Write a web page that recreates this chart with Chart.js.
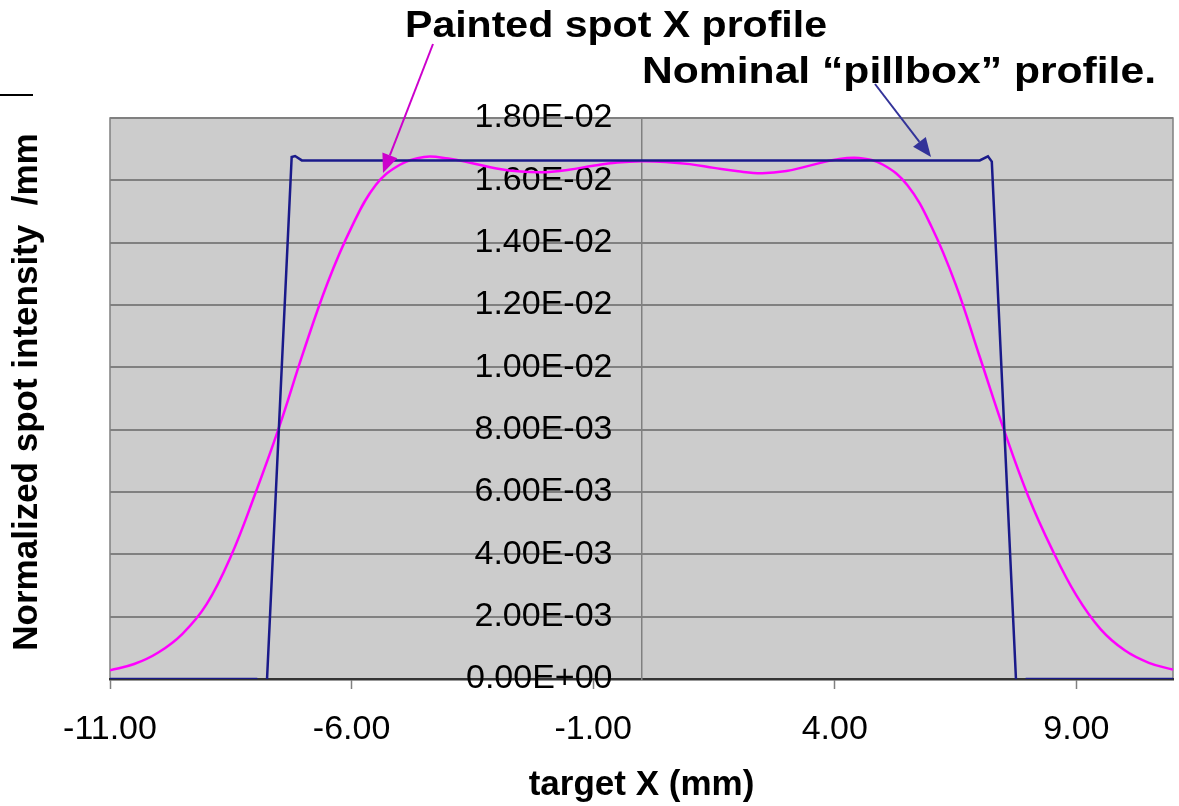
<!DOCTYPE html>
<html>
<head>
<meta charset="utf-8">
<title>Painted spot X profile</title>
<script src="https://cdn.jsdelivr.net/npm/chart.js@4.4.0/dist/chart.umd.min.js"></script>
<style>
  body { margin: 0; background: #ffffff; }
  #wrap { width: 1179px; height: 806px; }
</style>
</head>
<body>
<div id="wrap"><canvas id="spotChart"></canvas></div>
<script>
// nominal "pillbox" profile: target X (mm) and intensity (/mm)
const pillboxX = [-11, -7.97, -7.86, -7.75, -7.24, -7.17, -7.03, 7.0, 7.17, 7.25, 7.75, 7.86, 7.97, 11];
const pillboxY = [0, 0, -0.0004, 0, 0.01675, 0.01678, 0.01664, 0.01664, 0.01677, 0.01660, 0, -0.0004, 0, 0];

const paintedX = [
    -11, -10.5, -10, -9.5, -9, -8.5, -8, -7.5, -7, -6.5, -6, -5.5, -5, -4.5, -4, -3.5, -3, -2.5, -2, -1.5, -1, -0.5,
    0, 0.5, 1, 1.5, 2, 2.5, 3, 3.5, 4, 4.5, 5, 5.5, 6, 6.5, 7, 7.5, 8, 8.5, 9, 9.5, 10, 10.5, 11
];
const paintedY = [
    0.00028, 0.00048, 0.00085, 0.00145, 0.00240, 0.00393, 0.00592, 0.00808, 0.01048, 0.01270, 0.01450,
    0.01585, 0.01650, 0.01675, 0.01670, 0.01655, 0.01638, 0.01628, 0.01626, 0.01634, 0.01647, 0.01657,
    0.01661, 0.01659, 0.01652, 0.01640, 0.01629, 0.01623, 0.01630, 0.01648, 0.01666, 0.01672, 0.01650,
    0.01585, 0.01452, 0.01267, 0.01034, 0.00800, 0.00588, 0.00415, 0.00268, 0.00160, 0.00092, 0.00052, 0.00030
];

// axis ticks
const xTickValues = [-11, -6, -1, 4, 9];
const yTickValues = [0, 0.002, 0.004, 0.006, 0.008, 0.010, 0.012, 0.014, 0.016, 0.018];

const FONT = '"Liberation Sans", Arial, sans-serif';

// Excel style scientific label, e.g. 1.80E-02
function sciLabel (v) {
    if (Math.abs(v) < 1e-12) return '0.00E+00';
    const parts = v.toExponential(2).split('e');
    const exp = parseInt(parts[1], 10);
    const sign = exp < 0 ? '-' : '+';
    return parts[0] + 'E' + sign + String(Math.abs(exp)).padStart(2, '0');
}

function toPoints (xs, ys) {
    const pts = [];
    for (let i = 0; i < xs.length; i++) {
        pts.push({ x: xs[i], y: ys[i] });
    }
    return pts;
}

// bold text stretched to a given width (the original text is a bit wide)
function fitText (ctx, text, left, baseline, width, size) {
    ctx.save();
    ctx.font = 'bold ' + size + 'px ' + FONT;
    const w = ctx.measureText(text).width;
    ctx.translate(left, baseline);
    ctx.scale(width / w, 1);
    ctx.fillStyle = '#000000';
    ctx.textBaseline = 'alphabetic';
    ctx.textAlign = 'left';
    ctx.fillText(text, 0, 0);
    ctx.restore();
}

function arrow (ctx, x1, y1, x2, y2, color) {
    const ang = Math.atan2(y2 - y1, x2 - x1);
    const len = 19;
    const half = 8;
    const bx = x2 - len * Math.cos(ang);
    const by = y2 - len * Math.sin(ang);
    ctx.save();
    ctx.strokeStyle = color;
    ctx.fillStyle = color;
    ctx.lineWidth = 2;
    ctx.beginPath();
    ctx.moveTo(x1, y1);
    ctx.lineTo(bx, by);
    ctx.stroke();
    ctx.beginPath();
    ctx.moveTo(x2, y2);
    ctx.lineTo(bx + half * Math.sin(ang), by - half * Math.cos(ang));
    ctx.lineTo(bx - half * Math.sin(ang), by + half * Math.cos(ang));
    ctx.closePath();
    ctx.fill();
    ctx.restore();
}

const decorations = {
    id: 'decorations',
    beforeDraw (chart) {
        const { ctx, chartArea: a } = chart;
        ctx.save();
        ctx.fillStyle = '#cccccc';
        ctx.fillRect(a.left, a.top, a.right - a.left, a.bottom - a.top);
        ctx.strokeStyle = '#808080';
        ctx.lineWidth = 1.5;
        ctx.strokeRect(a.left, a.top, a.right - a.left, a.bottom - a.top);
        ctx.restore();
    },
    beforeDatasetsDraw (chart) {
        // y tick labels sit left of the axis that crosses at x = 0
        const ctx = chart.ctx;
        const xs = chart.scales.x;
        const ys = chart.scales.y;
        const right = xs.getPixelForValue(0) - 29;
        ctx.save();
        ctx.font = '34px ' + FONT;
        ctx.fillStyle = '#000000';
        ctx.textAlign = 'right';
        ctx.textBaseline = 'middle';
        yTickValues.forEach(v => {
            ctx.fillText(sciLabel(v), right, ys.getPixelForValue(v));
        });
        ctx.restore();
    },
    afterDraw (chart) {
        const ctx = chart.ctx;

        // y axis title
        ctx.save();
        ctx.translate(27, 392);
        ctx.rotate(-Math.PI / 2);
        ctx.font = 'bold 35px ' + FONT;
        ctx.fillStyle = '#000000';
        ctx.textAlign = 'center';
        ctx.textBaseline = 'middle';
        ctx.fillText('Normalized spot intensity  /mm', 0, 0);
        ctx.restore();

        // callouts
        fitText(ctx, 'Painted spot X profile', 405, 37, 422, 36);
        fitText(ctx, 'Nominal \u201cpillbox\u201d profile.', 642, 83, 514, 36);
        arrow(ctx, 433, 44, 383, 173, '#cc00cc');
        arrow(ctx, 875, 84, 931, 157, '#333399');

        // stray line at top left
        ctx.save();
        ctx.strokeStyle = '#000000';
        ctx.lineWidth = 2;
        ctx.beginPath();
        ctx.moveTo(0, 95);
        ctx.lineTo(33, 95);
        ctx.stroke();
        ctx.restore();
    }
};

const data = {
    datasets: [
        {
            label: 'Nominal pillbox profile',
            data: toPoints(pillboxX, pillboxY),
            borderColor: '#1a1a8a',
            borderWidth: 2.5,
            pointRadius: 0,
            tension: 0,
            showLine: true
        },
        {
            label: 'Painted spot X profile',
            data: toPoints(paintedX, paintedY),
            borderColor: '#ff00ff',
            borderWidth: 2.5,
            pointRadius: 0,
            tension: 0.4,
            showLine: true
        }
    ]
};

const config = {
    type: 'scatter',
    data: data,
    plugins: [decorations],
    options: {
        responsive: true,
        maintainAspectRatio: false,
        animation: false,
        layout: {
            padding: { left: 110, right: 6, top: 118, bottom: 0 }
        },
        plugins: {
            legend: { display: false },
            tooltip: { enabled: false }
        },
        scales: {
            x: {
                type: 'linear',
                position: 'bottom',
                min: -11,
                max: 11,
                afterBuildTicks: function (scale) {
                    scale.ticks = xTickValues.map(v => ({ value: v }));
                },
                afterFit: function (scale) {
                    scale.height = 127;
                },
                grid: {
                    drawOnChartArea: false,
                    drawTicks: true,
                    tickLength: 10,
                    tickColor: '#808080',
                    tickWidth: 1.5
                },
                border: { display: true, color: '#333333', width: 2.5 },
                ticks: {
                    color: '#000000',
                    padding: 20,
                    maxRotation: 0,
                    autoSkip: false,
                    font: { family: FONT, size: 34 },
                    callback: v => Number(v).toFixed(2)
                },
                title: {
                    display: true,
                    text: 'target X (mm)',
                    color: '#000000',
                    padding: { top: 0, bottom: 0 },
                    font: { family: FONT, size: 35, weight: 'bold' }
                }
            },
            y: {
                type: 'linear',
                position: { x: 0 },
                min: 0,
                max: 0.018,
                afterBuildTicks: function (scale) {
                    scale.ticks = yTickValues.map(v => ({ value: v }));
                },
                grid: {
                    color: '#808080',
                    lineWidth: 2,
                    tickLength: 9,
                    tickColor: '#808080',
                    tickWidth: 1.5
                },
                border: { display: true, color: '#808080', width: 1.5 },
                ticks: {
                    display: false
                }
            }
        }
    }
};

const spotChart = new Chart(document.getElementById('spotChart'), config);
</script>
</body>
</html>
